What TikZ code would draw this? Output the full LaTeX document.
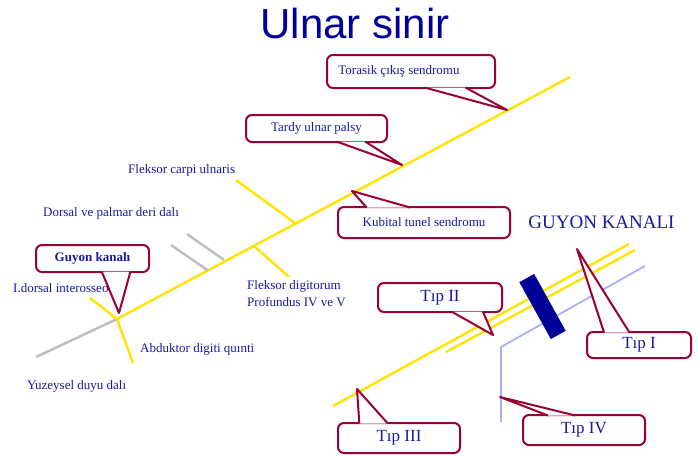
\documentclass[tikz,border=0pt]{standalone}
\usepackage{fontspec}
\setmainfont{Liberation Serif}
\newfontfamily\titlefont{Liberation Sans}
\usepackage{tikz}
\usetikzlibrary{positioning,calc}

\definecolor{nerveyellow}{RGB}{255,228,0}
\definecolor{nervegray}{RGB}{190,190,190}
\definecolor{arterylilac}{RGB}{170,175,250}
\definecolor{calloutred}{RGB}{153,0,51}
\definecolor{labelblue}{RGB}{25,25,160}
\definecolor{titlenavy}{RGB}{0,0,153}

\begin{document}
\begin{tikzpicture}[x=1pt, y=-1pt,
        nerve/.style={draw=nerveyellow, line width=2.4pt},
        graybranch/.style={draw=nervegray, line width=2.4pt},
        artery/.style={draw=arterylilac, line width=1.8pt},
        callbox/.style={rectangle, draw=calloutred, line width=2pt, rounded corners=6pt, fill=white, inner sep=0pt, align=center, text=labelblue, font=\fontsize{13}{15}\selectfont},
        tipbox/.style={callbox, font=\fontsize{17}{19}\selectfont},
        pointer/.style={draw=calloutred, line width=2pt, fill=white, line join=round},
        lbl/.style={anchor=west, inner sep=0pt, text=labelblue, font=\fontsize{13}{17}\selectfont, align=left}
    ]
    \useasboundingbox[fill=white] (0,0) rectangle (698,455);

    % Title
    \node[anchor=base, text=titlenavy, font=\titlefont\fontsize{42}{46}\selectfont] (title) at (355,38) {Ulnar sinir};

    % Ulnar nerve, main course and branches
    \coordinate (hand) at (36,357);
    \coordinate (wrist) at (117,319);
    \coordinate (axilla) at (570,77);
    \draw[graybranch] (hand) -- (wrist);
    \draw[nerve] (wrist) -- (axilla);
    \draw[nerve] (90,298) -- (wrist) -- (133,363);
    \draw[nerve] (236,180) -- (295,223);
    \draw[nerve] (254,246) -- (289,277);
    \draw[graybranch] (171,245) -- (208,270.5);
    \draw[graybranch] (187,234) -- (224,260);

    % Branch labels
    \node[lbl] (fcu) at (128,170) {Fleksor carpi ulnaris};
    \node[lbl] (dorsal) at (43,213) {Dorsal ve palmar deri dalı};
    \node[lbl] (interos) at (13,288) {I.dorsal interosseos};
    \node[lbl, anchor=north west] (fdp) at (247,280) {Fleksor digitorum\\Profundus IV ve V};
    \node[lbl] (abd) at (140,349) {Abduktor digiti quınti};
    \node[lbl] (yuz) at (27,386) {Yuzeysel duyu dalı};

    % Guyon canal close-up
    \draw[nerve] (333,406) -- (629,244);
    \draw[nerve] (446,352) -- (635,250);
    \draw[artery] (501,422) -- (501,347) -- (645,266);
    \node[rectangle, fill=titlenavy, minimum width=65pt, minimum height=17pt, rotate=-61] (canal) at (542.5,306.5) {};
    \node[anchor=base, text=labelblue, font=\fontsize{19}{21}\selectfont] (guyontitle) at (601.5,228) {GUYON KANALI};

    % Callout boxes
    \node[callbox, minimum width=168pt, minimum height=33pt] (toras) at (411,71.5) {\hspace*{-24pt}Torasik çıkış sendromu};
    \node[callbox, minimum width=141pt, minimum height=27pt] (tardy) at (316.5,128.5) {Tardy ulnar palsy};
    \node[callbox, minimum width=172pt, minimum height=31pt] (kubit) at (424,222.5) {Kubital tunel sendromu};
    \node[callbox, minimum width=113pt, minimum height=27pt, font=\bfseries\fontsize{13}{15}\selectfont] (guyon) at (92.5,258.5) {Guyon kanalı};
    \node[tipbox, minimum width=124pt, minimum height=29pt] (tip2) at (440,297.5) {Tıp II};
    \node[tipbox, minimum width=104pt, minimum height=26pt] (tip1) at (639,345) {Tıp I};
    \node[tipbox, minimum width=122pt, minimum height=30pt] (tip3) at (399,438) {Tıp III};
    \node[tipbox, minimum width=122pt, minimum height=30pt] (tip4) at (584,430) {Tıp IV};

    % Pointer tips
    \coordinate (torastip) at (507,110);
    \coordinate (tardytip) at (402,165);
    \coordinate (kubittip) at (352,191);
    \coordinate (guyontip) at (119,313);
    \coordinate (tip2tip) at (493,335);
    \coordinate (tip1tip) at (577,249);
    \coordinate (tip3tip) at (357,389);
    \coordinate (tip4tip) at (500,397);

    % Pointers
    \filldraw[pointer] ($(toras.south west)!0.58!(toras.south east)+(0,-1.5)$) -- (torastip) -- ($(toras.south west)!0.82!(toras.south east)+(0,-1.5)$);
    \filldraw[pointer] ($(tardy.south west)!0.64!(tardy.south east)+(0,-1.5)$) -- (tardytip) -- ($(tardy.south west)!0.84!(tardy.south east)+(0,-1.5)$);
    \filldraw[pointer] ($(kubit.north west)!0.17!(kubit.north east)+(0,1.5)$) -- (kubittip) -- ($(kubit.north west)!0.42!(kubit.north east)+(0,1.5)$);
    \filldraw[pointer] ($(guyon.south west)!0.58!(guyon.south east)+(0,-1.5)$) -- (guyontip) -- ($(guyon.south west)!0.83!(guyon.south east)+(0,-1.5)$);
    \filldraw[pointer] ($(tip2.south west)!0.59!(tip2.south east)+(0,-1.5)$) -- (tip2tip) -- ($(tip2.south west)!0.84!(tip2.south east)+(0,-1.5)$);
    \filldraw[pointer] ($(tip1.north west)!0.17!(tip1.north east)+(0,1.5)$) -- (tip1tip) -- ($(tip1.north west)!0.41!(tip1.north east)+(0,1.5)$);
    \filldraw[pointer] ($(tip3.north west)!0.18!(tip3.north east)+(0,1.5)$) -- (tip3tip) -- ($(tip3.north west)!0.41!(tip3.north east)+(0,1.5)$);
    \filldraw[pointer] ($(tip4.north west)!0.21!(tip4.north east)+(0,1.5)$) -- (tip4tip) -- ($(tip4.north west)!0.43!(tip4.north east)+(0,1.5)$);

\end{tikzpicture}
\end{document}
